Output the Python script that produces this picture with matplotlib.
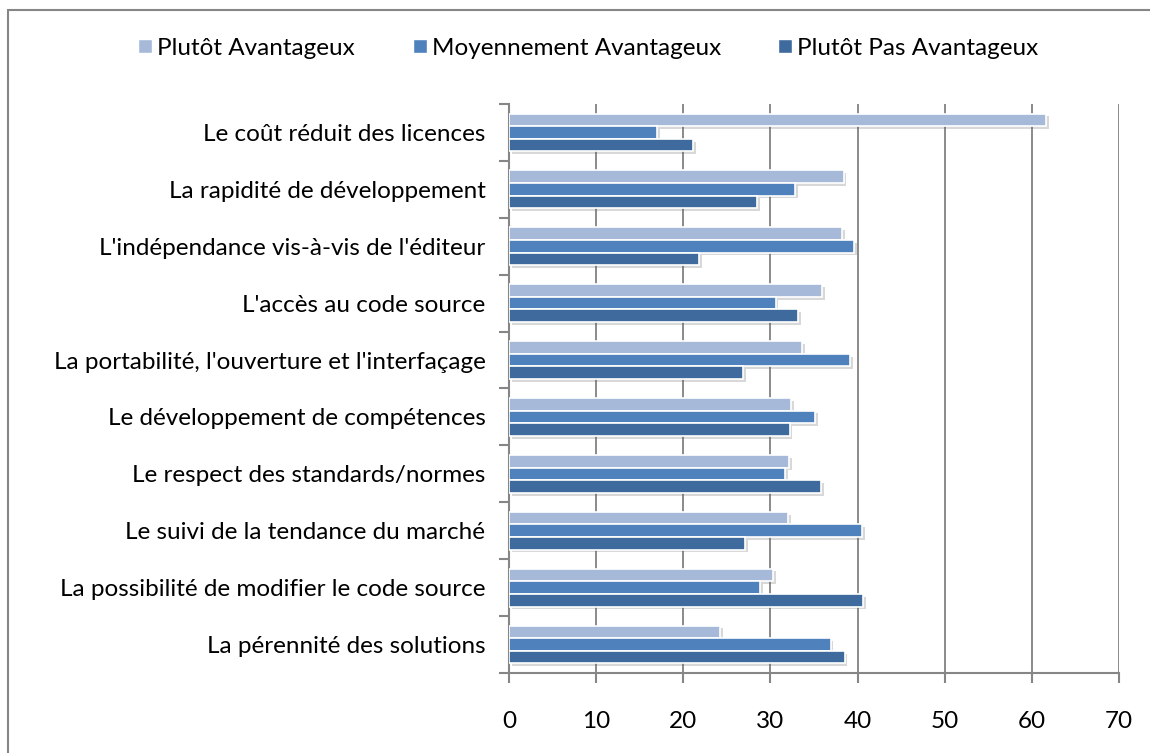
import numpy as np
import matplotlib
matplotlib.use("Agg")
import matplotlib.pyplot as plt
from matplotlib.patches import Rectangle
from matplotlib.lines import Line2D
import matplotlib.patheffects as pe

# categories, listed top to bottom as in the chart
categories = [
    "Le coût réduit des licences",
    "La rapidité de développement",
    "L'indépendance vis-à-vis de l'éditeur",
    "L'accès au code source",
    "La portabilité, l'ouverture et l'interfaçage",
    "Le développement de compétences",
    "Le respect des standards/normes",
    "Le suivi de la tendance du marché",
    "La possibilité de modifier le code source",
    "La pérennité des solutions",
]
plutot_avantageux = [61.6, 38.4, 38.2, 35.9, 33.6, 32.4, 32.1, 32.0, 30.3, 24.2]
moyennement_avantageux = [17.0, 32.8, 39.6, 30.6, 39.1, 35.1, 31.7, 40.5, 28.8, 36.9]
plutot_pas_avantageux = [21.1, 28.5, 21.8, 33.2, 26.9, 32.2, 35.8, 27.1, 40.6, 38.5]

series_names = ["Plutôt Avantageux", "Moyennement Avantageux", "Plutôt Pas Avantageux"]
colors = ["#A7B9D9", "#4F81BD", "#3F6A9E"]
xticks = [0, 10, 20, 30, 40, 50, 60, 70]

plt.rcParams['font.family'] = ['Lato', 'DejaVu Sans']
FS = 17.5

fig = plt.figure(figsize=(11.5, 7.53), dpi=100)
ax = fig.add_axes([509 / 1150, 1 - 673 / 753, 610 / 1150, (673 - 104) / 753])

n = len(categories)
ypos = np.arange(n)[::-1]  # first category at the top
bh = 0.222
shadow = [pe.SimplePatchShadow(offset=(2, -2), alpha=0.25, shadow_rgbFace='#666666'), pe.Normal()]
all_series = [plutot_avantageux, moyennement_avantageux, plutot_pas_avantageux]
for k, (vals, c, name) in enumerate(zip(all_series, colors, series_names)):
    bars = ax.barh(ypos + (1 - k) * bh, vals, height=bh, color=c,
                   edgecolor='white', linewidth=1.2, label=name, zorder=3)
    for b in bars:
        b.set_path_effects(shadow)

ax.set_xlim(0, 70)
ax.set_ylim(-0.5, n - 0.5)
ax.set_xticks(xticks)
ax.set_xticklabels([str(t) for t in xticks], fontsize=FS)
ax.set_yticks(ypos)
ax.set_yticklabels(categories, fontsize=FS)
ax.set_yticks(np.arange(-0.5, n, 1.0), minor=True)
ax.tick_params(axis='y', which='major', length=0, pad=17)
ax.tick_params(axis='y', which='minor', length=7, color='#868686', width=1.5, direction='out')
ax.tick_params(axis='x', length=7, color='#868686', width=1.5, direction='out', pad=20)

ax.grid(axis='x', color='#8a8a8a', linewidth=1.4, zorder=0)
ax.set_axisbelow(True)
for s in ['top', 'right']:
    ax.spines[s].set_visible(False)
for s in ['left', 'bottom']:
    ax.spines[s].set_color('#868686')
    ax.spines[s].set_linewidth(1.5)

handles = [Line2D([], [], marker='s', linestyle='none', markersize=10,
                  markerfacecolor=c, markeredgecolor='white') for c in colors]
fig.legend(handles, series_names, loc='center', bbox_to_anchor=(0.51, 1 - 48 / 753),
           ncol=3, frameon=False, fontsize=FS, handletextpad=0.05, columnspacing=2.2,
           handlelength=0.9)

# outer chart border (left and top edges visible)
fig.patches.append(Rectangle((8 / 1150, -0.1), 1.5, 1 - 10 / 753 + 0.1,
                             transform=fig.transFigure, fill=False,
                             edgecolor='#868686', linewidth=1.5))

fig.savefig("out.png", dpi=100, facecolor='white')
